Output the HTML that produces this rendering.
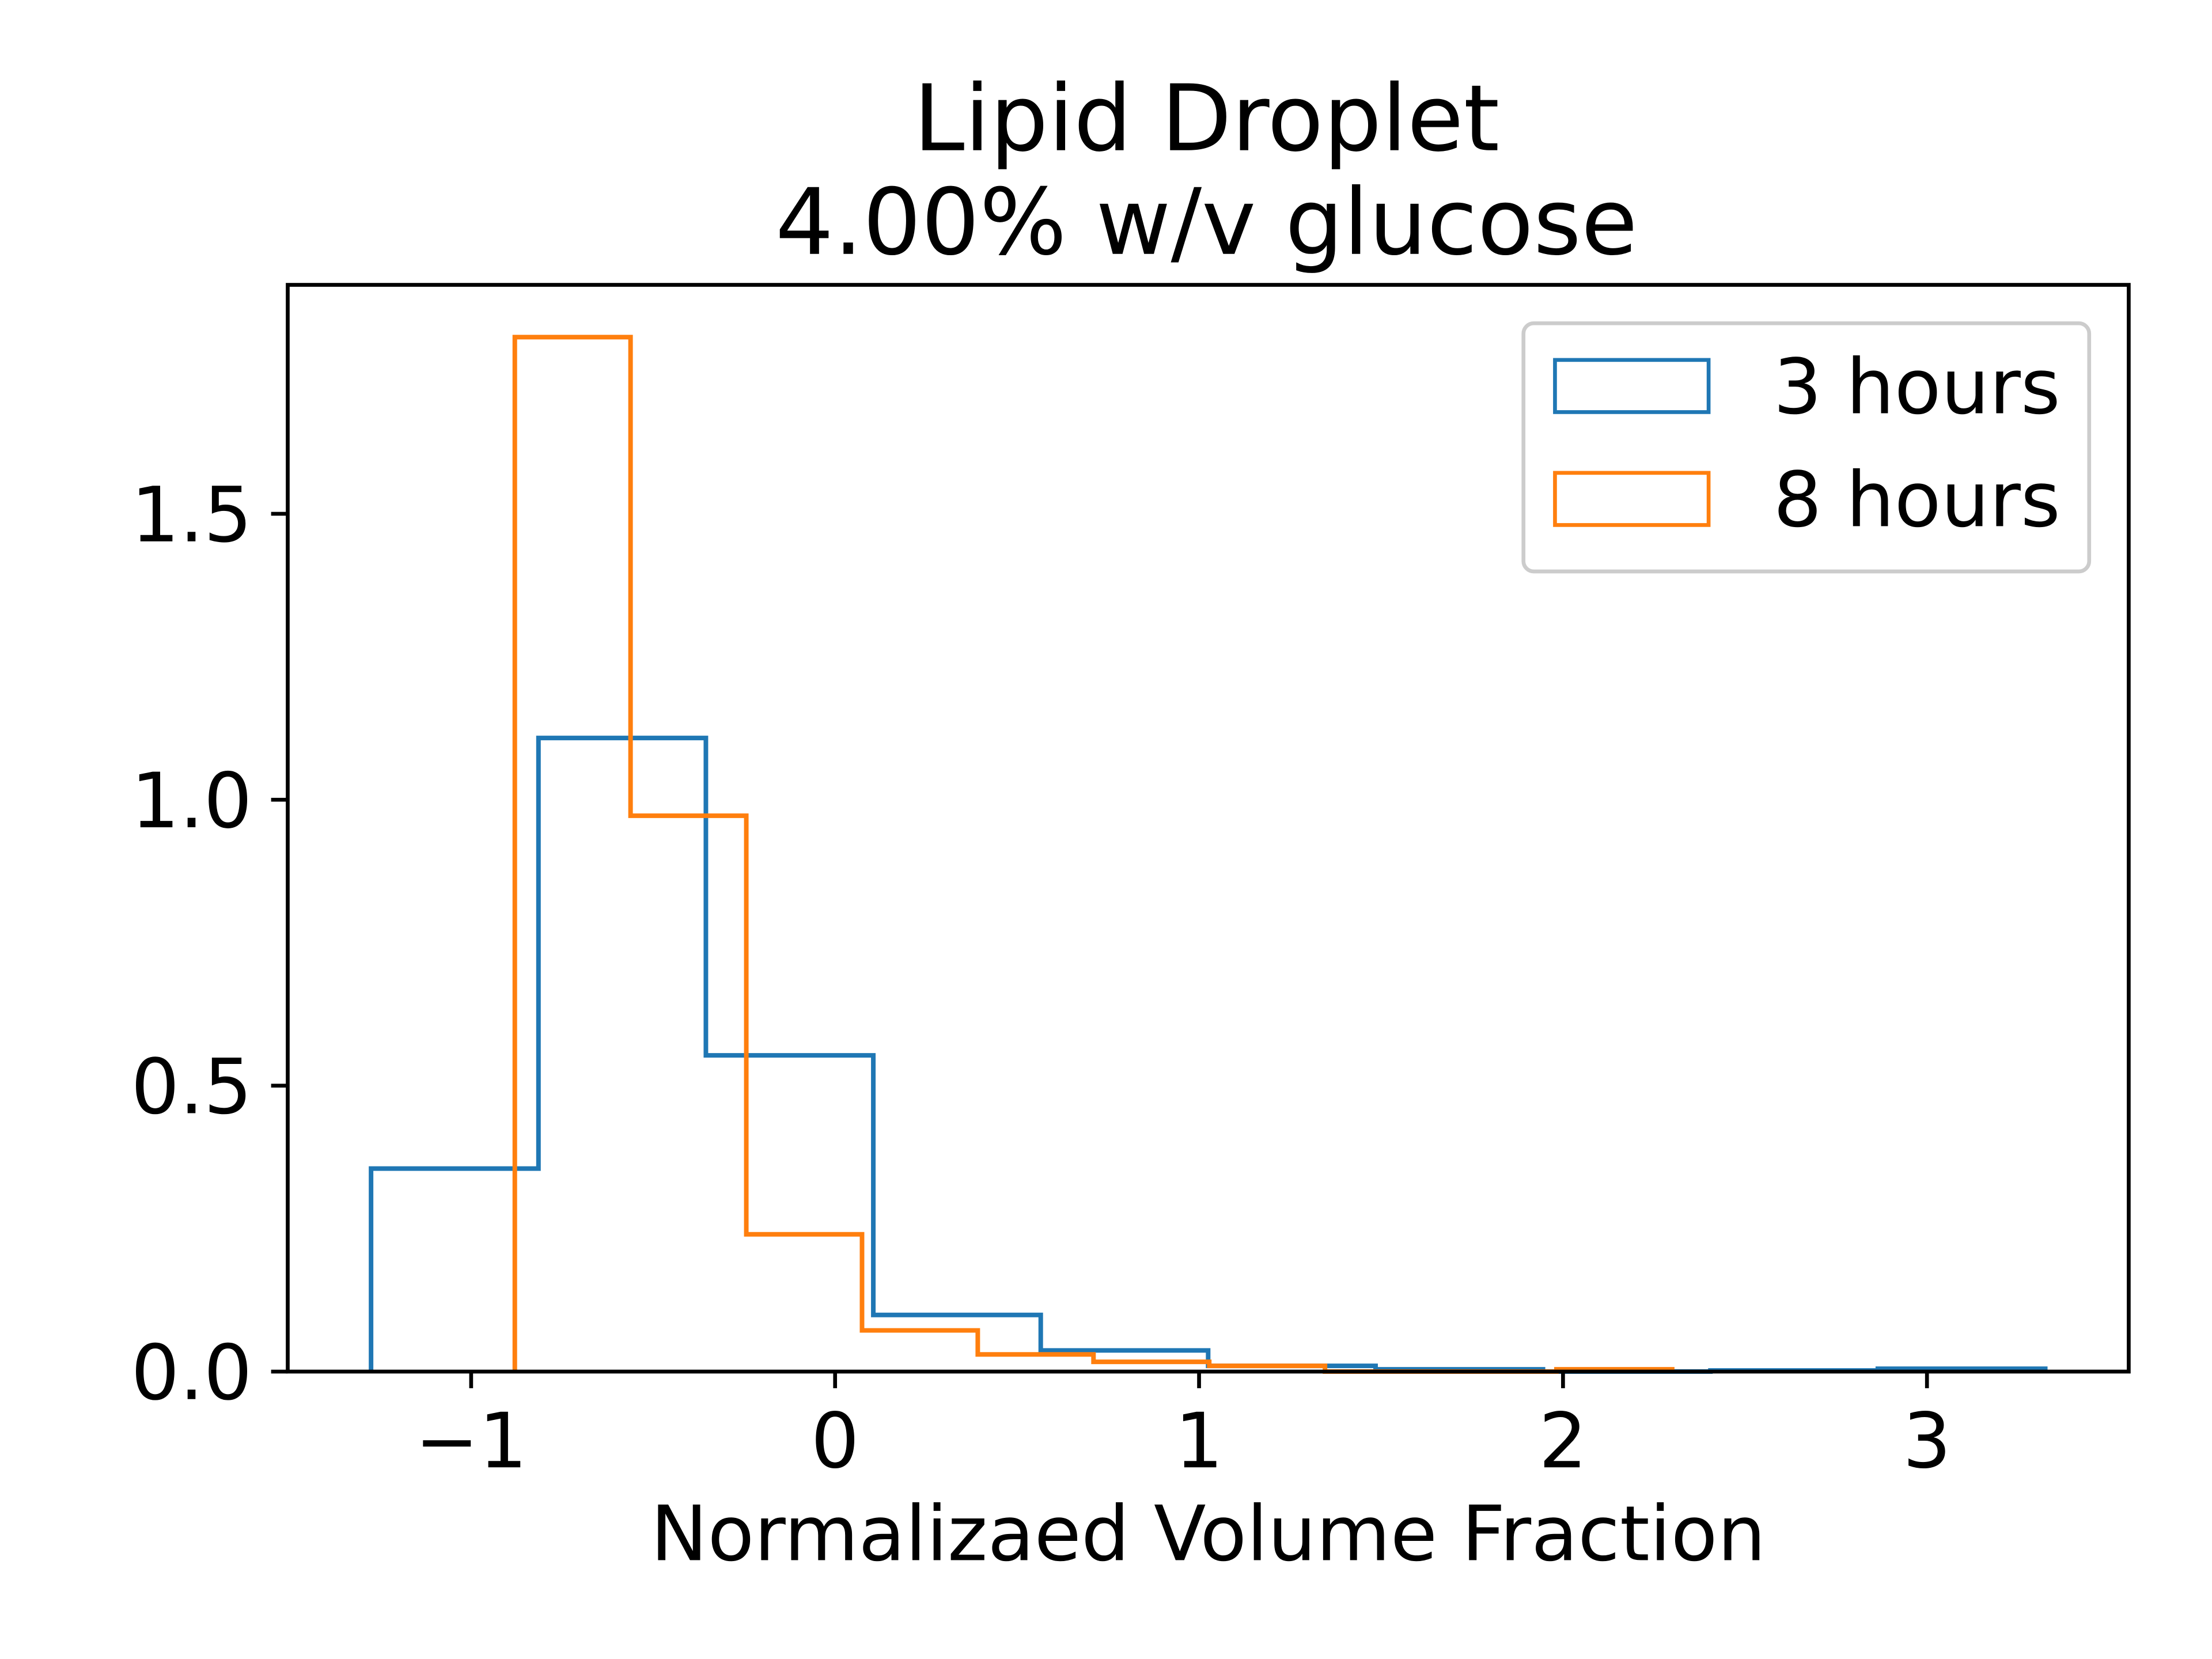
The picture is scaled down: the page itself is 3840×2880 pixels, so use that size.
<!DOCTYPE html>
<html><head><meta charset="utf-8"><style>
body{margin:0;background:#fff}
svg{display:block;font-family:"DejaVu Sans","Liberation Sans",sans-serif}
</style></head><body>
<svg id="chart" width="3840" height="2880" viewBox="0 0 3840 2880" xmlns="http://www.w3.org/2000/svg">
<rect width="3840" height="2880" fill="#fff"/>
<g transform="scale(0.995)">
<text x="2105" y="262" font-size="160" text-anchor="middle">Lipid Droplet</text>
<text x="2105" y="443" font-size="160" text-anchor="middle">4.00% w/v glucose</text>
<g id="marks"></g>
<g id="axes"></g>
<text x="2108" y="2722" font-size="133" text-anchor="middle">Normalizaed Volume Fraction</text>
<g>
<rect x="2658" y="564" width="987" height="433" rx="18" fill="#fff" fill-opacity="0.8" stroke="#cccccc" stroke-width="6.7"/>
<rect x="2713" y="628" width="268" height="91" fill="none" stroke="#1f77b4" stroke-width="6.7"/>
<text x="3094" y="721" font-size="133">3 hours</text>
<rect x="2713" y="825" width="268" height="91" fill="none" stroke="#ff7f0e" stroke-width="6.7"/>
<text x="3094" y="918" font-size="133">8 hours</text>
</g>
</g>
</svg>
<script>
const blueEdges=[-1.275,-0.815,-0.355,0.105,0.565,1.025,1.485,1.945,2.405,2.865,3.325];
const blueValues=[0.355,1.108,0.553,0.099,0.037,0.01,0.004,0.0,0.002,0.005];
const orangeEdges=[-0.88,-0.562,-0.244,0.074,0.392,0.71,1.028,1.346,1.664,1.982,2.3];
const orangeValues=[1.809,0.972,0.24,0.072,0.03,0.017,0.01,0.0,0.0,0.004];
const xTicks=[-1,0,1,2,3];
const xTickLabels=["\u22121","0","1","2","3"];
const yTicks=[0,0.5,1.0,1.5];
const yTickLabels=["0.0","0.5","1.0","1.5"];

const L=502,R=3714,T=497,B=2393;
const X0=1457,XU=635,YU=997.7;
function sx(v){return X0+v*XU;}
function sy(v){return B-v*YU;}
const NS="http://www.w3.org/2000/svg";
const marks=document.getElementById('marks');
const axes=document.getElementById('axes');
function stepPath(edges,vals){
  let d="M"+sx(edges[0])+","+sy(0);
  for(let i=0;i<vals.length;i++){
    d+=" L"+sx(edges[i])+","+sy(vals[i])+" L"+sx(edges[i+1])+","+sy(vals[i]);
  }
  d+=" L"+sx(edges[edges.length-1])+","+sy(0);
  return d;
}
const pb=document.createElementNS(NS,'path');
pb.setAttribute('d',stepPath(blueEdges,blueValues));
pb.setAttribute('fill','none');pb.setAttribute('stroke','#1f77b4');pb.setAttribute('stroke-width','8');


marks.appendChild(pb);
const po=document.createElementNS(NS,'path');
po.setAttribute('d',stepPath(orangeEdges,orangeValues));
po.setAttribute('fill','none');po.setAttribute('stroke','#ff7f0e');po.setAttribute('stroke-width','8');


marks.appendChild(po);

const frame=document.createElementNS(NS,'rect');
frame.setAttribute('x',L);frame.setAttribute('y',T);frame.setAttribute('width',R-L);frame.setAttribute('height',B-T);
frame.setAttribute('fill','none');frame.setAttribute('stroke','#000');frame.setAttribute('stroke-width','6.7');


axes.appendChild(frame);

xTicks.forEach((v,i)=>{
  const ln=document.createElementNS(NS,'line');
  ln.setAttribute('x1',sx(v));ln.setAttribute('x2',sx(v));ln.setAttribute('y1',B);ln.setAttribute('y2',B+29);
  ln.setAttribute('stroke','#000');ln.setAttribute('stroke-width','6.7');
  
  
  axes.appendChild(ln);
  const t=document.createElementNS(NS,'text');
  t.setAttribute('x',sx(v));t.setAttribute('y',2560);t.setAttribute('font-size','133');t.setAttribute('text-anchor','middle');
  t.textContent=xTickLabels[i];
  
  
  axes.appendChild(t);
});
yTicks.forEach((v,i)=>{
  const ln=document.createElementNS(NS,'line');
  ln.setAttribute('x1',L-29);ln.setAttribute('x2',L);ln.setAttribute('y1',sy(v));ln.setAttribute('y2',sy(v));
  ln.setAttribute('stroke','#000');ln.setAttribute('stroke-width','6.7');
  
  
  axes.appendChild(ln);
  const t=document.createElementNS(NS,'text');
  t.setAttribute('x',440);t.setAttribute('y',sy(v)+48);t.setAttribute('font-size','133');t.setAttribute('text-anchor','end');
  t.textContent=yTickLabels[i];
  
  
  axes.appendChild(t);
});
</script>
</body></html>
